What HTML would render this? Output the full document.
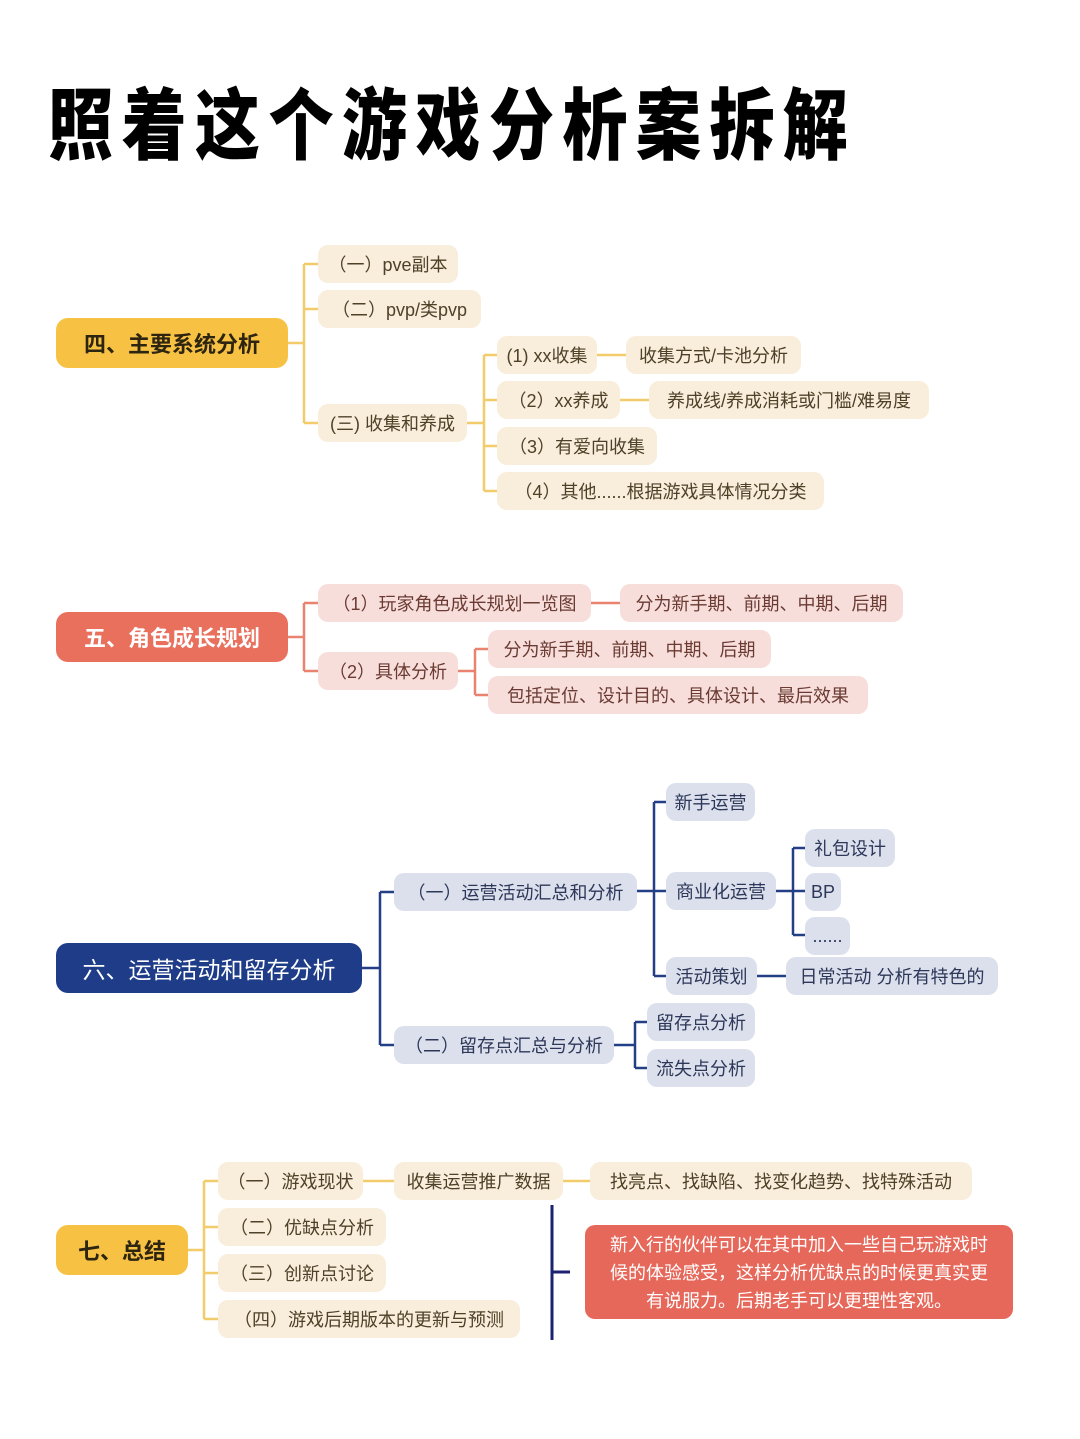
<!DOCTYPE html>
<html><head><meta charset="utf-8"><style>
body{margin:0;background:#fff;width:1080px;height:1439px;position:relative;overflow:hidden;font-family:"Liberation Sans","Noto Sans CJK SC",sans-serif;}
.t{position:absolute;left:48px;top:78px;font-size:78px;font-weight:900;letter-spacing:10px;color:#000;line-height:96px;white-space:nowrap;transform:scaleX(0.835);transform-origin:0 0;}
.n{position:absolute;height:38px;border-radius:10px;display:flex;align-items:center;justify-content:center;font-size:18px;white-space:nowrap;box-sizing:border-box;}
.y{background:#F8EEDB;color:#4e4128;}
.p{background:#F7DEDA;color:#6a3a33;}
.b{background:#DCE0EC;color:#2c3759;}
.r{position:absolute;height:50px;border-radius:12px;display:flex;align-items:center;justify-content:center;font-size:22px;font-weight:bold;white-space:nowrap;}
svg{position:absolute;left:0;top:0;}
</style></head><body>
<div class="t">照着这个游戏分析案拆解</div>
<svg width="1080" height="1439" fill="none" stroke-width="2.5">
<g stroke="#F2CC6A">
<path d="M288 343H304M304 264V423M304 264H318M304 309H318M304 423H318"/>
<path d="M467 423H484M484 355V491M484 355H497M484 400H497M484 446H497M484 491H497"/>
<path d="M597 355H626M620 400H649"/>
<path d="M188 1250H204M204 1181V1319M204 1181H218M204 1227H218M204 1273H218M204 1319H218"/>
<path d="M363 1181H394M563 1181H590"/>
</g>
<g stroke="#E9826F">
<path d="M288 637H304M304 603V671M304 603H318M304 671H318M591 603H620"/>
<path d="M458 671H475M475 649V695M475 649H488M475 695H488"/>
</g>
<g stroke="#233F86">
<path d="M362 968H380M380 892V1045M380 892H394M380 1045H394"/>
<path d="M637 891H654M654 802V976M654 802H666M654 891H666M654 976H666"/>
<path d="M776 891H793M793 848V935M793 848H805M793 891H805M793 935H805M757 976H786"/>
<path d="M614 1045H635M635 1022V1068M635 1022H647M635 1068H647"/>
</g>
<path d="M552 1205V1340M552 1272H570" stroke="#1b2270" stroke-width="3"/>
</svg>

<div class="r" style="left:56px;top:318px;width:232px;background:#F7C244;color:#2e2510">四、主要系统分析</div>
<div class="n y" style="left:318px;top:245px;width:140px">（一）pve副本</div>
<div class="n y" style="left:318px;top:290px;width:163px">（二）pvp/类pvp</div>
<div class="n y" style="left:318px;top:404px;width:149px">(三) 收集和养成</div>
<div class="n y" style="left:497px;top:336px;width:100px">(1) xx收集</div>
<div class="n y" style="left:626px;top:336px;width:175px">收集方式/卡池分析</div>
<div class="n y" style="left:497px;top:381px;width:123px">（2）xx养成</div>
<div class="n y" style="left:649px;top:381px;width:280px">养成线/养成消耗或门槛/难易度</div>
<div class="n y" style="left:497px;top:427px;width:160px">（3）有爱向收集</div>
<div class="n y" style="left:497px;top:472px;width:327px">（4）其他......根据游戏具体情况分类</div>

<div class="r" style="left:56px;top:612px;width:232px;background:#E8705D;color:#fff">五、角色成长规划</div>
<div class="n p" style="left:318px;top:584px;width:273px">（1）玩家角色成长规划一览图</div>
<div class="n p" style="left:620px;top:584px;width:283px">分为新手期、前期、中期、后期</div>
<div class="n p" style="left:318px;top:652px;width:140px">（2）具体分析</div>
<div class="n p" style="left:488px;top:630px;width:283px">分为新手期、前期、中期、后期</div>
<div class="n p" style="left:488px;top:676px;width:380px">包括定位、设计目的、具体设计、最后效果</div>

<div class="r" style="left:56px;top:943px;width:306px;background:#1E3C87;color:#fff;font-weight:normal;font-size:23px">六、运营活动和留存分析</div>
<div class="n b" style="left:394px;top:873px;width:243px">（一）运营活动汇总和分析</div>
<div class="n b" style="left:394px;top:1026px;width:220px">（二）留存点汇总与分析</div>
<div class="n b" style="left:666px;top:783px;width:89px">新手运营</div>
<div class="n b" style="left:666px;top:872px;width:110px">商业化运营</div>
<div class="n b" style="left:666px;top:957px;width:91px">活动策划</div>
<div class="n b" style="left:805px;top:829px;width:90px">礼包设计</div>
<div class="n b" style="left:805px;top:873px;width:36px">BP</div>
<div class="n b" style="left:805px;top:917px;width:45px">......</div>
<div class="n b" style="left:786px;top:957px;width:212px">日常活动 分析有特色的</div>
<div class="n b" style="left:647px;top:1003px;width:108px">留存点分析</div>
<div class="n b" style="left:647px;top:1049px;width:108px">流失点分析</div>

<div class="r" style="left:56px;top:1225px;width:132px;background:#F7C244;color:#2e2510">七、总结</div>
<div class="n y" style="left:218px;top:1162px;width:145px">（一）游戏现状</div>
<div class="n y" style="left:218px;top:1208px;width:168px">（二）优缺点分析</div>
<div class="n y" style="left:218px;top:1254px;width:168px">（三）创新点讨论</div>
<div class="n y" style="left:218px;top:1300px;width:302px">（四）游戏后期版本的更新与预测</div>
<div class="n y" style="left:394px;top:1162px;width:169px">收集运营推广数据</div>
<div class="n y" style="left:590px;top:1162px;width:382px">找亮点、找缺陷、找变化趋势、找特殊活动</div>
<div style="position:absolute;left:585px;top:1225px;width:428px;height:94px;background:#E6685A;border-radius:10px;color:#fff;font-size:18px;line-height:28px;text-align:center;padding-top:6px;box-sizing:border-box">新入行的伙伴可以在其中加入一些自己玩游戏时<br>候的体验感受，这样分析优缺点的时候更真实更<br>有说服力。后期老手可以更理性客观。</div>
</body></html>
